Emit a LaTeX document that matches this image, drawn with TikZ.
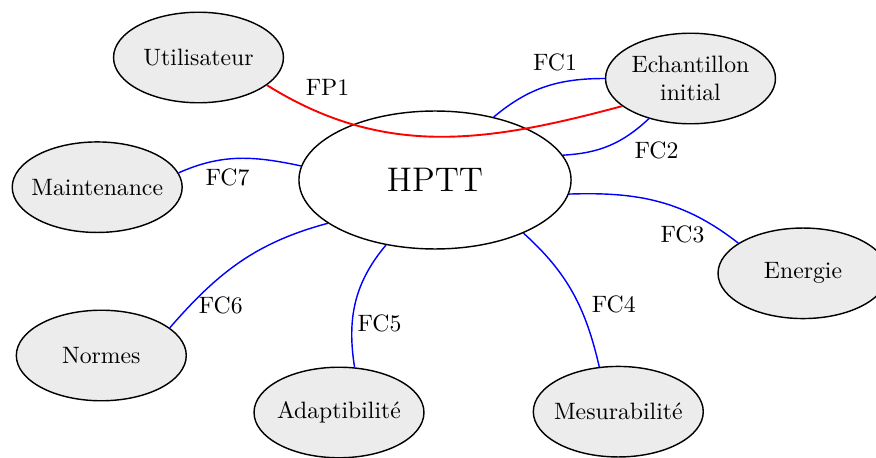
\documentclass[tikz,border=0pt]{standalone}
\usepackage{amsmath}
\usepackage{xcolor}
\usepackage{tikz}
\usetikzlibrary{shapes.geometric}

\begin{document}
\begin{tikzpicture}[x=0.4219pt,y=-0.4219pt,
  bulle/.style={draw, semithick, ellipse, fill=gray!15, minimum width=71.7pt, minimum height=38.2pt, inner xsep=-4pt},
  fc/.style={draw=blue, semithick},
  fp/.style={draw=red, thick}]
\useasboundingbox (0,0) rectangle (876,458);

%Shape: Ellipse
\node [draw, semithick, ellipse, minimum width=114.8pt, minimum height=58.2pt, font=\Large] (hptt) at (435,180) {HPTT};
%Shape: Ellipse
\node [bulle] (util) at (198.5,57.5) {Utilisateur};
%Shape: Ellipse
\node [bulle, align=center] (echant) at (690.5,78.5) {Echantillon\\initial};
%Shape: Ellipse
\node [bulle] (energ) at (803,273.3) {Energie};
%Shape: Ellipse
\node [bulle] (mesur) at (618.3,411.7) {Mesurabilité};
%Shape: Ellipse
\node [bulle] (adapt) at (339,412.5) {Adaptibilité};
%Shape: Ellipse
\node [bulle] (norm) at (101.3,355.5) {Normes};
%Shape: Ellipse
\node [bulle] (maint) at (97.2,187.2) {Maintenance};

%Curve Lines
\draw [fp] (util.-22) to [out=-32,in=195] (echant.202);
%Curve Lines
\draw [fc] (hptt.47) to [out=40,in=180] (echant.180);
%Curve Lines
\draw [fc] (hptt.11) to [out=3,in=223] (echant.224);
%Curve Lines
\draw [fc] (hptt.-6) to [out=2,in=142] (energ.155);
%Curve Lines
\draw [fc] (hptt.-31) to [out=-42,in=103] (mesur.113);
%Curve Lines
\draw [fc] (hptt.233) to [out=230,in=99] (adapt.71);
%Curve Lines
\draw [fc] (hptt.202) to [out=195,in=49] (norm.22);
%Curve Lines
\draw [fc] (maint.10) to [out=24,in=168] (hptt.174);

% Text Node
\node (lfp1) at (327.5,87) {FP1};
% Text Node
\node (lfc1) at (555,62) {FC1};
% Text Node
\node (lfc2) at (656.5,150) {FC2};
% Text Node
\node (lfc3) at (682.5,234.5) {FC3};
% Text Node
\node (lfc4) at (613.7,304) {FC4};
% Text Node
\node (lfc5) at (379.5,323) {FC5};
% Text Node
\node (lfc6) at (220.7,305) {FC6};
% Text Node
\node (lfc7) at (227.5,177.5) {FC7};
\end{tikzpicture}
\end{document}
